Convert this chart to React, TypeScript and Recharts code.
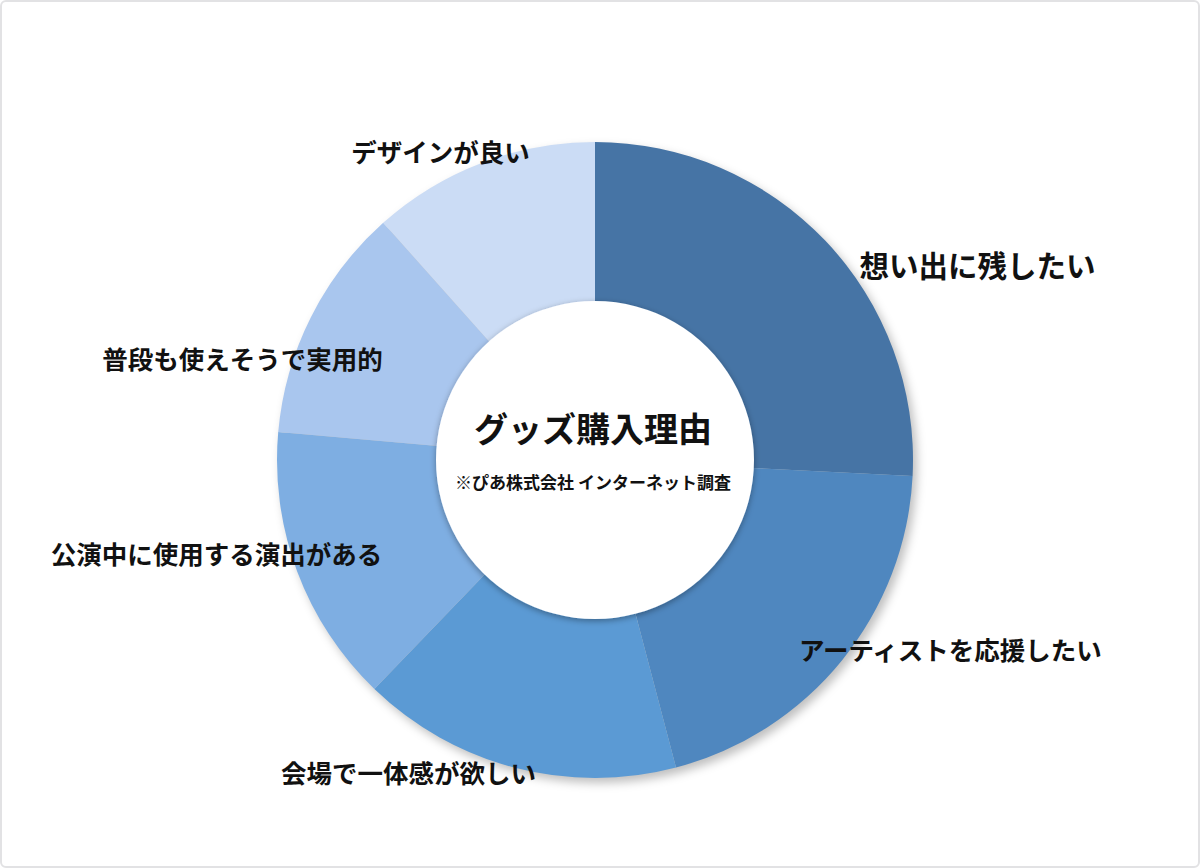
import { PieChart, Pie, Cell } from "recharts";

const reasons = [
  "想い出に残したい",
  "アーティストを応援したい",
  "会場で一体感が欲しい",
  "公演中に使用する演出がある",
  "普段も使えそうで実用的",
  "デザインが良い",
];
const shares = [25.8, 20.1, 16.3, 14.2, 12.0, 11.6];
const sliceColors = ["#4674a5", "#4f87bf", "#5b9ad4", "#7eaee2", "#a9c6ee", "#cbdcf5"];

const title = "グッズ購入理由";
const note = "※ぴあ株式会社 インターネット調査";

// label tweaks (px from the outer edge at the slice mid angle)
const labelNudge = [
  [34, 23],
  [-43, -12],
  [21, 4],
  [85, -19],
  [72, 40],
  [48, -12],
];
const labelSizes = [29.5, 25.5, 25.5, 25.5, 25.5, 25.5];

const data = reasons.map((name, i) => ({ name, value: shares[i] }));
const ring = [{ name: "ring", value: 1 }];

const RADIAN = Math.PI / 180;
const FONT = "'Noto Sans CJK JP', 'Noto Sans', sans-serif";

const renderLabel = (props: any) => {
  const { cx, cy, midAngle, outerRadius, index } = props;
  const cos = Math.cos(-midAngle * RADIAN);
  const sin = Math.sin(-midAngle * RADIAN);
  const x = cx + outerRadius * cos + labelNudge[index][0];
  const y = cy + outerRadius * sin + labelNudge[index][1];
  return (
    <text
      x={x}
      y={y}
      textAnchor={cos >= 0 && index < 2 ? "start" : "end"}
      dominantBaseline="central"
      fill="#111"
      fontFamily={FONT}
      fontWeight={700}
      fontSize={labelSizes[index]}
    >
      {data[index].name}
    </text>
  );
};

const centerText = (top: number, size: number): React.CSSProperties => ({
  position: "absolute",
  left: 0,
  width: 1186,
  top,
  textAlign: "center",
  fontFamily: FONT,
  fontWeight: 700,
  fontSize: size,
  lineHeight: 1,
  color: "#111",
  whiteSpace: "nowrap",
});

export default function App() {
  return (
    <div
      style={{
        position: "absolute",
        left: 0,
        top: 0,
        width: 1200,
        height: 868,
        boxSizing: "border-box",
        border: "2px solid #e2e2e4",
        borderRadius: 6,
        background: "#fff",
        overflow: "hidden",
      }}
    >
      <div style={{ position: "absolute", left: -2, top: -2 }}>
        <PieChart width={1200} height={868} margin={{ top: 0, right: 0, bottom: 0, left: 0 }}>
          <defs>
            <filter id="ringShadow" x="-20%" y="-20%" width="140%" height="140%">
              <feGaussianBlur stdDeviation="5" />
            </filter>
            <filter id="holeShadow" x="-20%" y="-20%" width="140%" height="140%">
              <feDropShadow dx="0" dy="2" stdDeviation="3" floodColor="#000" floodOpacity="0.35" />
            </filter>
          </defs>
          <Pie
            data={ring}
            dataKey="value"
            cx={599}
            cy={465}
            innerRadius={158}
            outerRadius={318}
            startAngle={90}
            endAngle={-270}
            stroke="none"
            isAnimationActive={false}
          >
            <Cell fill="#000" fillOpacity={0.25} filter="url(#ringShadow)" />
          </Pie>
          <Pie
            data={data}
            dataKey="value"
            nameKey="name"
            cx={595}
            cy={460}
            innerRadius={158}
            outerRadius={318}
            startAngle={90}
            endAngle={-270}
            stroke="none"
            label={renderLabel}
            labelLine={false}
            isAnimationActive={false}
          >
            {data.map((d, i) => (
              <Cell key={d.name} fill={sliceColors[i]} />
            ))}
          </Pie>
          <Pie
            data={ring}
            dataKey="value"
            cx={595}
            cy={460}
            innerRadius={0}
            outerRadius={159}
            startAngle={90}
            endAngle={-270}
            stroke="none"
            isAnimationActive={false}
          >
            <Cell fill="#fff" filter="url(#holeShadow)" />
          </Pie>
        </PieChart>
        <div style={centerText(411, 34)}>{title}</div>
        <div style={centerText(473, 17)}>{note}</div>
      </div>
    </div>
  );
}
